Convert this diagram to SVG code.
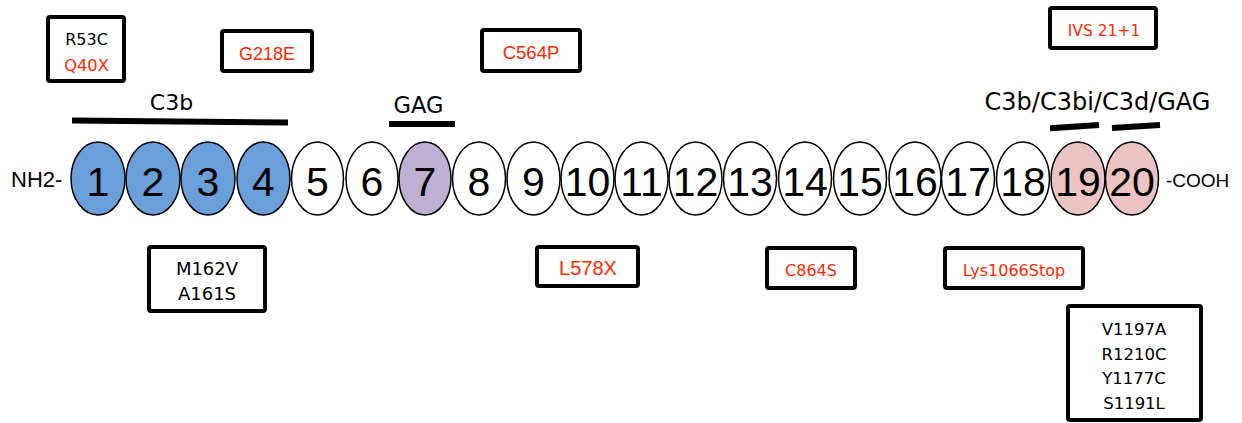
<svg xmlns="http://www.w3.org/2000/svg" width="1242" height="423" viewBox="0 0 1242 423">
<style>
  .bg{fill:#ffffff}
  .cp{stroke:#000;stroke-width:1.5}
  .w{fill:#ffffff}
  .b{fill:#6a9fd9}
  .p{fill:#bdb0d3}
  .k{fill:#ebc4c3}
  .num{font-family:"Liberation Sans",Arial,sans-serif;font-size:41px;fill:#000;text-anchor:middle}
  .box{fill:#fff;stroke:#000;stroke-width:4}
  .cal{font-family:"DejaVu Sans","Liberation Sans",sans-serif;text-anchor:middle;fill:#000}
  .ari{font-family:"Liberation Sans",Arial,sans-serif;text-anchor:middle;fill:#000}
  .red{fill:#ff2a00}
  .bar{stroke:#000;stroke-width:6;fill:none}
  .lbl{font-family:"DejaVu Sans","Liberation Sans",sans-serif;fill:#000;text-anchor:middle}
</style>
<rect class="bg" x="0" y="0" width="1242" height="423"/>

<g id="domain-bars">
  <path class="bar" d="M72 120.5 L288 122.5"/>
  <path class="bar" d="M389 124 L455 124"/>
  <path class="bar" d="M1050 128.3 L1099 125"/>
  <path class="bar" d="M1112 128 L1160 125"/>
</g>

<g id="labels">
  <text class="lbl" x="171.5" y="110" font-size="22">C3b</text>
  <text class="lbl" x="418.5" y="113" font-size="22.5">GAG</text>
  <text class="lbl" x="1097.5" y="110" font-size="24">C3b/C3bi/C3d/GAG</text>
  <text x="11" y="187" font-family="Liberation Sans, Arial, sans-serif" font-size="22" fill="#000">NH2-</text>
  <text x="1166" y="187" font-family="Liberation Sans, Arial, sans-serif" font-size="19" fill="#000">-COOH</text>
</g>

<g id="ccp1"><ellipse class="cp b" cx="98" cy="178.5" rx="27" ry="36.5"/><text class="num" x="98" y="196">1</text></g>
<g id="ccp2"><ellipse class="cp b" cx="153" cy="178.5" rx="27" ry="36.5"/><text class="num" x="153" y="196">2</text></g>
<g id="ccp3"><ellipse class="cp b" cx="208" cy="178.5" rx="27" ry="36.5"/><text class="num" x="208" y="196">3</text></g>
<g id="ccp4"><ellipse class="cp b" cx="263.5" cy="178.5" rx="26.5" ry="36.5"/><text class="num" x="263.5" y="196">4</text></g>
<g id="ccp5"><ellipse class="cp w" cx="317.5" cy="178.5" rx="26" ry="36.5"/><text class="num" x="317.5" y="196">5</text></g>
<g id="ccp6"><ellipse class="cp w" cx="372" cy="178.5" rx="26" ry="36.5"/><text class="num" x="372" y="196">6</text></g>
<g id="ccp7"><ellipse class="cp p" cx="425" cy="178.5" rx="26" ry="36.5"/><text class="num" x="425" y="196">7</text></g>
<g id="ccp8"><ellipse class="cp w" cx="479" cy="178.5" rx="26.5" ry="36.5"/><text class="num" x="479" y="196">8</text></g>
<g id="ccp9"><ellipse class="cp w" cx="533.5" cy="178.5" rx="26.5" ry="36.5"/><text class="num" x="533.5" y="196">9</text></g>
<g id="ccp10"><ellipse class="cp w" cx="587.5" cy="178.5" rx="26.5" ry="36.5"/><text class="num" x="587.5" y="196">10</text></g>
<g id="ccp11"><ellipse class="cp w" cx="641.5" cy="178.5" rx="26.5" ry="36.5"/><text class="num" x="641.5" y="196">11</text></g>
<g id="ccp12"><ellipse class="cp w" cx="695.5" cy="178.5" rx="26.5" ry="36.5"/><text class="num" x="695.5" y="196">12</text></g>
<g id="ccp13"><ellipse class="cp w" cx="750" cy="178.5" rx="26.5" ry="36.5"/><text class="num" x="750" y="196">13</text></g>
<g id="ccp14"><ellipse class="cp w" cx="805" cy="178.5" rx="26.5" ry="36.5"/><text class="num" x="805" y="196">14</text></g>
<g id="ccp15"><ellipse class="cp w" cx="860" cy="178.5" rx="26.5" ry="36.5"/><text class="num" x="860" y="196">15</text></g>
<g id="ccp16"><ellipse class="cp w" cx="915" cy="178.5" rx="26" ry="36.5"/><text class="num" x="915" y="196">16</text></g>
<g id="ccp17"><ellipse class="cp w" cx="968" cy="178.5" rx="26.5" ry="36.5"/><text class="num" x="968" y="196">17</text></g>
<g id="ccp18"><ellipse class="cp w" cx="1023" cy="178.5" rx="26.5" ry="36.5"/><text class="num" x="1023" y="196">18</text></g>
<g id="ccp19"><ellipse class="cp k" cx="1078" cy="178.5" rx="27" ry="36.5"/><text class="num" x="1078" y="196">19</text></g>
<g id="ccp20"><ellipse class="cp k" cx="1132" cy="178.5" rx="26.5" ry="36.5"/><text class="num" x="1132" y="196">20</text></g>

<g id="mut-r53c">
  <rect class="box" x="48" y="17" width="76" height="64" rx="2"/>
  <text class="cal" x="86.5" y="45" font-size="16">R53C</text>
  <text class="cal red" x="86.5" y="71" font-size="16.3">Q40X</text>
</g>
<g id="mut-g218e">
  <rect class="box" x="222" y="31" width="90" height="40" rx="2"/>
  <text class="ari red" x="267" y="59.5" font-size="18">G218E</text>
</g>
<g id="mut-c564p">
  <rect class="box" x="482" y="30" width="98" height="41" rx="2"/>
  <text class="ari red" x="531" y="58.5" font-size="18.5">C564P</text>
</g>
<g id="mut-ivs">
  <rect class="box" x="1050" y="8" width="106" height="40" rx="2"/>
  <text class="cal red" x="1104" y="36" font-size="15.5">IVS 21+1</text>
</g>
<g id="mut-m162v">
  <rect class="box" x="149" y="247" width="116" height="64" rx="2"/>
  <text class="cal" x="207" y="275" font-size="18">M162V</text>
  <text class="cal" x="207" y="300" font-size="18">A161S</text>
</g>
<g id="mut-l578x">
  <rect class="box" x="537" y="247" width="101" height="39" rx="2"/>
  <text class="ari red" x="588" y="274.5" font-size="20">L578X</text>
</g>
<g id="mut-c864s">
  <rect class="box" x="767" y="248" width="88" height="40" rx="2"/>
  <text class="cal red" x="811" y="275.5" font-size="16">C864S</text>
</g>
<g id="mut-lys1066">
  <rect class="box" x="945" y="248" width="138" height="40" rx="2"/>
  <text class="cal red" x="1014" y="275.5" font-size="16">Lys1066Stop</text>
</g>
<g id="mut-v1197a">
  <rect class="box" x="1068" y="306" width="133" height="114" rx="2"/>
  <text class="cal" x="1134" y="335" font-size="16.5">V1197A</text>
  <text class="cal" x="1134" y="360" font-size="16.5">R1210C</text>
  <text class="cal" x="1134" y="384" font-size="16.5">Y1177C</text>
  <text class="cal" x="1134" y="409" font-size="16.5">S1191L</text>
</g>
</svg>
